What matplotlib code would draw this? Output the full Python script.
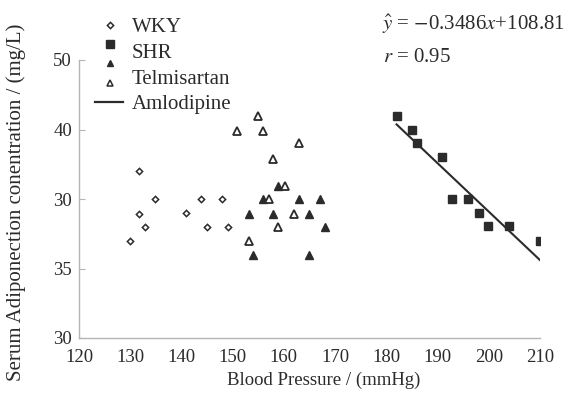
import numpy as np
import matplotlib
matplotlib.use("Agg")
import matplotlib.pyplot as plt
from matplotlib.lines import Line2D

plt.rcParams['font.family'] = ['Liberation Serif', 'DejaVu Serif']
plt.rcParams['mathtext.fontset'] = 'stix'

# data
wky_x = [130.0, 131.8, 131.8, 132.8, 134.9, 140.9, 143.8, 145.0, 147.9, 149.0]
wky_y = [37.0, 42.0, 38.9, 38.0, 40.0, 39.0, 40.0, 38.0, 40.0, 38.0]

shr_x = [182.0, 185.0, 186.0, 190.9, 192.9, 196.0, 198.0, 199.9, 204.0, 210.0]
shr_y = [46.0, 45.0, 44.05, 43.0, 40.0, 40.0, 39.0, 38.06, 38.06, 37.0]

tel_fill_x = [158.8, 156.0, 162.9, 167.1, 153.1, 157.9, 164.9, 168.1, 153.9, 164.9]
tel_fill_y = [40.9, 40.0, 40.0, 40.0, 38.9, 38.9, 38.9, 38.0, 36.0, 36.0]

tel_open_x = [154.9, 150.8, 156.0, 162.9, 157.8, 160.2, 157.1, 162.0, 158.9, 153.1]
tel_open_y = [46.0, 44.9, 44.9, 44.0, 42.9, 40.9, 40.0, 38.9, 38.0, 37.0]

slope, intercept = -0.3486, 108.81

x_ticks = [120, 130, 140, 150, 160, 170, 180, 190, 200, 210]
x_marks = [130, 140, 160, 170, 190, 210]
y_ticks = [30, 35, 40, 45, 50]
y_labels = ['30', '35', '30', '40', '50']

dark = '#2b2b2b'
axis_col = '#b5b5b5'

fig = plt.figure(figsize=(5.71, 3.94), dpi=100)
ax = fig.add_axes([79/571, 1-338/394, 461/571, 278/394])

ax.plot(wky_x, wky_y, 'D', ms=3.2, mfc='white', mec=dark, mew=1.1, ls='none')
ax.plot(shr_x, shr_y, 's', ms=5.8, mfc=dark, mec=dark, ls='none')
ax.plot(tel_fill_x, tel_fill_y, '^', ms=5.2, mfc=dark, mec=dark, ls='none')
ax.plot(tel_open_x, tel_open_y, '^', ms=5.8, mfc='white', mec=dark, mew=1.3, ls='none')

lx = np.array([min(shr_x), max(shr_x)])
ax.plot(lx, slope*lx + intercept, color=dark, lw=1.5)

ax.set_xlim(120, 210)
ax.set_ylim(30, 50)
ax.set_xticks(x_ticks)
ax.set_xticks(x_marks, minor=True)
ax.set_yticks(y_ticks)
ax.set_yticklabels(y_labels)
ax.tick_params(axis='x', which='major', length=0, labelsize=13.5, pad=8, colors=dark)
ax.tick_params(axis='x', which='minor', length=4, direction='in', color=axis_col)
ax.tick_params(axis='y', length=4, direction='in', color=axis_col, labelsize=13.5, pad=5, labelcolor=dark)

for s in ['top', 'right']:
    ax.spines[s].set_visible(False)
for s in ['left', 'bottom']:
    ax.spines[s].set_color(axis_col)
    ax.spines[s].set_linewidth(1.0)

ax.set_xlabel('Blood Pressure / (mmHg)', fontsize=13.5, color=dark)
ax.xaxis.set_label_coords(0.531, -0.12)
ax.set_ylabel('Serum Adiponection conentration / (mg/L)', fontsize=15, color=dark)
ax.yaxis.set_label_coords(-0.115, 0.489)

# legend drawn by hand (markers and labels are offset in the original)
W, H = 571, 394
def fx(px):
    return px / W
def fy(py):
    return 1 - py / H

fig.add_artist(Line2D([fx(110)], [fy(25)], marker='D', ms=3.2, mfc='white', mec=dark, mew=1.1, ls='none'))
fig.add_artist(Line2D([fx(110)], [fy(44)], marker='s', ms=5.5, mfc=dark, mec=dark, ls='none'))
fig.add_artist(Line2D([fx(110)], [fy(63)], marker='^', ms=4.5, mfc=dark, mec=dark, ls='none'))
fig.add_artist(Line2D([fx(110)], [fy(83)], marker='^', ms=4.8, mfc='white', mec=dark, mew=1.1, ls='none'))
fig.add_artist(Line2D([fx(95), fx(123)], [fy(102), fy(102)], color=dark, lw=1.6))

for label, py in zip(['WKY', 'SHR', 'Telmisartan', 'Amlodipine'], [27, 53, 80, 105]):
    fig.text(fx(132), fy(py), label, fontsize=15, va='center', ha='left', color=dark)

fig.text(fx(382), fy(24), r'$\hat{y}$ = $-$0.3486$x$+108.81', fontsize=15, va='center', ha='left', color=dark)
fig.text(fx(383), fy(58), r'$r$ = 0.95', fontsize=15, va='center', ha='left', color=dark)

fig.savefig('out.png', dpi=100)
